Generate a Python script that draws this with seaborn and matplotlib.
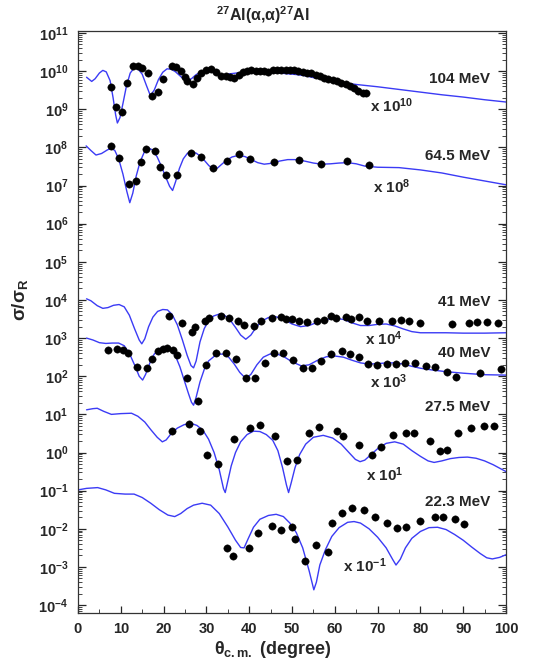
import numpy as np
import pandas as pd
import matplotlib
matplotlib.use("Agg")
import matplotlib.pyplot as plt
import seaborn as sns
from matplotlib.ticker import FixedLocator, LogFormatterMathtext, MultipleLocator, NullFormatter

# ---------------- data (angles in degrees, values as log10 of sigma/sigma_R incl. scale factor) -------------
energies = ["104 MeV", "64.5 MeV", "41 MeV", "40 MeV", "27.5 MeV", "22.3 MeV"]
scale_labels = ["x 10$^{10}$", "x 10$^{8}$", "x 10$^{4}$", "x 10$^{3}$", "x 10$^{1}$", "x 10$^{-1}$"]
y_decades = list(range(-4, 12))

# experimental points
th_104 = [7.8, 8.96, 10.3, 11.5, 12.85, 14.0, 15.0, 16.4, 17.3, 18.7, 19.9, 22.0, 23.0, 24.1, 24.9, 25.5,
          26.9, 27.9, 28.8, 30.0, 31.1, 32.3, 33.5, 34.6, 35.5, 36.5, 37.5, 38.5, 39.5, 40.5, 41.5, 42.5,
          43.5, 44.5, 45.5, 46.5, 47.5, 48.5, 49.5, 50.5, 51.5, 52.5, 53.5, 54.5, 55.5, 56.5, 57.5, 58.5,
          59.5, 60.5, 61.5, 62.5, 63.5, 64.5, 65.5, 66.5, 67.3]
lg_104 = [9.58, 9.07, 8.92, 9.70, 10.13, 10.13, 10.07, 9.94, 9.35, 9.44, 9.79, 10.13, 10.10, 10.01, 9.84, 9.74,
          9.66, 9.81, 9.94, 10.03, 10.05, 9.99, 9.87, 9.87, 9.84, 9.83, 9.90, 9.97, 10.0, 10.02, 10.0, 10.0,
          10.0, 9.99, 10.02, 10.04, 10.03, 10.02, 10.04, 10.03, 10.0, 9.99, 9.96, 9.94, 9.90, 9.86, 9.82, 9.80,
          9.76, 9.74, 9.70, 9.65, 9.60, 9.55, 9.48, 9.43, 9.43]

th_645 = [7.7, 9.6, 12.0, 13.5, 14.7, 15.9, 17.9, 19.2, 20.5, 23.1, 26.4, 28.8, 31.6, 34.8, 37.7, 40.2,
          45.8, 51.6, 56.7, 62.8, 68.0]
lg_645 = [8.03, 7.71, 7.03, 7.12, 7.63, 7.96, 7.90, 7.48, 7.27, 7.28, 7.85, 7.76, 7.45, 7.65, 7.83, 7.69,
          7.63, 7.66, 7.56, 7.65, 7.55]

th_41 = [21.3, 24.4, 26.7, 27.4, 29.6, 30.6, 33.4, 35.3, 37.3, 38.7, 41.1, 42.7, 45.4, 47.4, 48.5, 50.1,
         51.6, 53.6, 55.9, 57.5, 59.0, 60.2, 62.5, 63.7, 65.6, 67.6, 70.3, 73.4, 75.4, 77.3, 80.0, 87.4,
         91.3, 93.2, 95.6, 98.1]
lg_41 = [3.57, 3.40, 3.16, 3.29, 3.44, 3.52, 3.57, 3.52, 3.44, 3.35, 3.33, 3.44, 3.52, 3.55, 3.50, 3.49,
         3.44, 3.42, 3.45, 3.48, 3.57, 3.52, 3.55, 3.49, 3.55, 3.45, 3.44, 3.46, 3.48, 3.46, 3.40, 3.37,
         3.40, 3.42, 3.42, 3.40]

th_40 = [6.9, 9.1, 10.4, 11.6, 13.8, 16.1, 17.2, 18.6, 19.8, 20.9, 22.1, 23.1, 25.4, 28.0, 30.0, 32.2,
         34.5, 36.9, 39.2, 41.3, 43.6, 45.8, 48.0, 50.3, 52.5, 54.7, 56.8, 59.2, 61.7, 63.5, 65.6, 67.8,
         69.9, 72.1, 74.2, 76.5, 78.8, 81.2, 83.5, 86.2, 88.4, 93.9, 98.8]
lg_40 = [2.69, 2.72, 2.69, 2.60, 2.23, 2.21, 2.45, 2.66, 2.71, 2.73, 2.69, 2.55, 1.95, 1.36, 2.30, 2.62,
         2.62, 2.46, 1.95, 1.95, 2.36, 2.61, 2.61, 2.42, 2.22, 2.22, 2.39, 2.57, 2.65, 2.57, 2.50, 2.33,
         2.29, 2.32, 2.33, 2.35, 2.35, 2.27, 2.23, 2.10, 1.98, 2.09, 2.20]

th_275 = [21.9, 26.0, 28.5, 30.2, 32.7, 36.5, 40.2, 42.5, 46.0, 48.8, 51.2, 53.9, 56.3, 60.4, 62.0, 65.7,
          68.7, 70.7, 73.6, 76.7, 78.6, 82.2, 84.5, 86.2, 88.7, 91.8, 94.9, 97.3]
lg_275 = [0.57, 0.76, 0.57, -0.06, -0.29, 0.35, 0.63, 0.72, 0.43, -0.22, -0.20, 0.52, 0.67, 0.57, 0.43, 0.20,
          -0.06, 0.15, 0.46, 0.52, 0.52, 0.29, 0.04, 0.06, 0.52, 0.63, 0.70, 0.69]

th_223 = [34.7, 36.2, 40.0, 42.1, 45.4, 47.5, 50.1, 50.6, 53.0, 55.7, 58.5, 59.3, 61.6, 64.1, 66.9, 69.5,
          72.1, 74.6, 76.7, 80.0, 83.4, 85.3, 88.0, 90.3]
lg_223 = [-2.50, -2.71, -2.50, -2.12, -1.93, -2.03, -1.96, -2.27, -2.85, -2.43, -2.60, -1.84, -1.58, -1.46,
          -1.52, -1.70, -1.86, -1.99, -1.96, -1.79, -1.70, -1.70, -1.74, -1.87]

# model calculations
cth_104 = [2.0, 3.2, 4.0, 5.0, 5.8, 6.6, 7.5, 8.2, 8.8, 9.2, 9.8, 10.5, 11.3, 12.2, 13.1, 14.0, 15.0, 16.0,
           16.9, 17.8, 18.8, 19.8, 20.8, 21.8, 22.8, 23.8, 24.7, 25.5, 26.5, 27.5, 28.5, 29.5, 30.5, 31.5,
           32.5, 33.5, 34.5, 35.5, 37, 39, 41, 43, 45, 47, 49, 51, 53, 55, 57, 59, 61, 63, 65, 70, 75, 80,
           85, 90, 95, 100]
clg_104 = [9.84, 9.73, 9.80, 9.95, 10.02, 9.98, 9.75, 9.30, 8.85, 8.64, 8.78, 9.15, 9.60, 9.95, 10.08, 10.06,
           9.92, 9.62, 9.36, 9.50, 9.78, 9.97, 10.06, 10.05, 9.98, 9.88, 9.79, 9.76, 9.80, 9.90, 9.97, 10.0,
           10.0, 9.97, 9.92, 9.90, 9.91, 9.93, 9.95, 9.96, 9.96, 9.96, 9.96, 9.95, 9.93, 9.91, 9.88, 9.83,
           9.79, 9.76, 9.72, 9.68, 9.65, 9.59, 9.52, 9.45, 9.38, 9.32, 9.25, 9.19]

cth_645 = [1.9, 3.0, 4.2, 5.5, 6.8, 7.7, 8.6, 9.5, 10.5, 11.4, 12.1, 12.8, 13.6, 14.5, 15.5, 16.5, 17.5, 18.5,
           19.5, 20.5, 21.4, 22.1, 22.8, 23.7, 24.6, 25.6, 26.6, 27.6, 28.6, 29.6, 30.6, 31.6, 32.6, 33.6,
           34.8, 36.0, 37.5, 39, 40.5, 42, 43.5, 45, 47, 49, 51, 53, 55, 57, 59, 61, 63, 65, 67, 70, 75, 80,
           85, 90, 95, 100]
clg_645 = [8.04, 7.92, 7.80, 7.84, 7.93, 7.98, 7.92, 7.70, 7.30, 6.85, 6.55, 6.80, 7.25, 7.62, 7.88, 7.98,
           7.93, 7.75, 7.50, 7.22, 6.98, 6.87, 7.10, 7.45, 7.70, 7.85, 7.88, 7.85, 7.77, 7.65, 7.52, 7.44,
           7.46, 7.56, 7.67, 7.75, 7.79, 7.76, 7.68, 7.60, 7.56, 7.58, 7.64, 7.68, 7.68, 7.64, 7.59, 7.56,
           7.57, 7.59, 7.60, 7.57, 7.51, 7.48, 7.47, 7.41, 7.33, 7.22, 7.12, 7.02]

cth_41 = [2.0, 3.0, 4.5, 5.8, 7.0, 8.3, 9.6, 10.8, 12.0, 13.2, 14.3, 14.9, 15.6, 16.5, 17.5, 18.6, 19.8, 20.9,
          22.0, 23.2, 24.4, 25.5, 26.4, 27.0, 27.6, 28.5, 29.5, 30.5, 31.7, 33.0, 34.2, 35.5, 36.8, 38.0,
          39.2, 40.4, 41.6, 43.0, 44.5, 46.2, 48.0, 50.0, 52.0, 54.0, 56.0, 58.0, 60.0, 62.0, 64.0, 66.0,
          68.0, 70.0, 72.0, 74.0, 76.0, 78.0, 80, 83, 86, 90, 95, 100]
clg_41 = [4.03, 3.98, 3.85, 3.78, 3.80, 3.86, 3.88, 3.82, 3.60, 3.25, 2.95, 2.85, 2.98, 3.30, 3.55, 3.70,
          3.75, 3.74, 3.62, 3.35, 2.95, 2.55, 2.28, 2.22, 2.40, 2.90, 3.25, 3.45, 3.58, 3.63, 3.60, 3.48,
          3.28, 3.08, 2.97, 3.08, 3.28, 3.45, 3.54, 3.56, 3.50, 3.37, 3.30, 3.33, 3.42, 3.49, 3.52, 3.49,
          3.40, 3.33, 3.33, 3.36, 3.37, 3.32, 3.24, 3.17, 3.14, 3.14, 3.14, 3.13, 3.13, 3.14]

cth_40 = [2.0, 3.5, 5.0, 6.5, 8.0, 9.5, 10.8, 12.0, 13.2, 14.3, 15.1, 15.8, 16.8, 17.8, 19.0, 20.3, 21.5,
          22.7, 23.8, 24.8, 25.8, 26.5, 27.0, 27.6, 28.5, 29.5, 30.5, 31.8, 33.0, 34.0, 35.2, 36.5, 37.8,
          39.2, 40.4, 41.8, 43.3, 44.8, 46.3, 48.0, 50.0, 52.2, 54.0, 56.0, 58.0, 60.0, 62.0, 64.0, 66.0,
          68.0, 70.0, 72.0, 74.0, 76.0, 78.0, 80, 83, 86, 90, 95, 100]
clg_40 = [3.00, 2.95, 2.88, 2.86, 2.87, 2.87, 2.80, 2.60, 2.30, 2.00, 1.90, 2.05, 2.35, 2.58, 2.72, 2.78,
          2.74, 2.55, 2.25, 1.90, 1.55, 1.32, 1.24, 1.45, 1.85, 2.18, 2.40, 2.52, 2.58, 2.58, 2.50, 2.32,
          2.10, 1.94, 2.05, 2.30, 2.50, 2.58, 2.59, 2.52, 2.38, 2.27, 2.30, 2.42, 2.51, 2.53, 2.50, 2.42,
          2.35, 2.32, 2.33, 2.35, 2.35, 2.32, 2.26, 2.21, 2.16, 2.12, 2.08, 2.04, 2.03]

cth_275 = [2.0, 3.5, 4.5, 6.0, 7.8, 10.0, 12.5, 14.0, 15.6, 17.0, 18.5, 19.7, 20.6, 21.8, 23.2, 24.8, 26.3,
           27.8, 29.2, 30.5, 31.8, 33.0, 34.0, 34.4, 35.0, 35.8, 36.8, 38.0, 39.5, 41.0, 42.5, 44.0, 45.5,
           46.7, 47.8, 48.7, 49.2, 49.8, 50.7, 51.8, 53.2, 55.0, 57.3, 59.5, 61.5, 63.3, 64.8, 65.9, 67.0,
           68.5, 70.0, 72.0, 74.0, 76.0, 78.0, 80.0, 81.8, 83.2, 85.0, 87.0, 89.0, 91.0, 93.0, 95.0, 97.0, 100]
clg_275 = [1.12, 1.15, 1.16, 1.08, 1.00, 1.02, 1.03, 0.95, 0.80, 0.60, 0.40, 0.28, 0.33, 0.50, 0.64, 0.73,
           0.77, 0.71, 0.58, 0.35, 0.00, -0.45, -0.95, -1.05, -0.75, -0.35, 0.00, 0.28, 0.47, 0.56, 0.55,
           0.47, 0.32, 0.05, -0.40, -0.85, -1.05, -0.80, -0.40, -0.05, 0.22, 0.40, 0.45, 0.38, 0.22, 0.00,
           -0.18, -0.24, -0.20, -0.05, 0.10, 0.24, 0.28, 0.22, 0.05, -0.10, -0.22, -0.26, -0.22, -0.16,
           -0.13, -0.12, -0.15, -0.22, -0.32, -0.50]

cth_223 = [0.0, 2.0, 4.6, 6.5, 8.5, 11.0, 13.1, 15.0, 17.0, 19.0, 21.0, 22.6, 24.0, 25.5, 27.0, 29.0, 31.0,
           33.0, 35.0, 36.8, 38.0, 38.8, 39.8, 41.0, 42.5, 44.5, 46.3, 48.0, 49.5, 51.0, 52.5, 54.0, 55.1,
           55.7, 56.5, 57.8, 59.3, 61.0, 63.0, 64.5, 66.0, 68.0, 70.0, 72.0, 73.5, 74.3, 75.3, 76.5, 78.0,
           80.0, 82.0, 84.0, 86.0, 88.0, 90.0, 92.0, 94.0, 95.5, 96.8, 98.5, 100]
clg_223 = [-0.98, -0.94, -0.92, -0.98, -1.07, -1.09, -1.09, -1.18, -1.33, -1.50, -1.64, -1.68, -1.60, -1.47,
           -1.38, -1.33, -1.38, -1.60, -1.95, -2.30, -2.49, -2.50, -2.25, -1.96, -1.75, -1.65, -1.62, -1.68,
           -1.85, -2.10, -2.50, -3.10, -3.60, -3.40, -2.95, -2.55, -2.20, -1.97, -1.83, -1.81, -1.85, -2.00,
           -2.22, -2.50, -2.80, -2.95, -2.80, -2.50, -2.25, -2.07, -1.97, -1.96, -2.02, -2.15, -2.30, -2.48,
           -2.65, -2.76, -2.79, -2.75, -2.68]

# label anchor positions (theta, log10 value)
energy_label_lg = [9.79, 7.78, 3.95, 2.60, 1.20, -1.29]
scale_label_th = [68.2, 69.0, 67.1, 68.2, 67.4, 62.0]
scale_label_lg = [9.09, 6.97, 2.99, 1.86, -0.59, -2.98]

data_sets = [(th_104, lg_104), (th_645, lg_645), (th_41, lg_41), (th_40, lg_40), (th_275, lg_275), (th_223, lg_223)]
curve_sets = [(cth_104, clg_104), (cth_645, clg_645), (cth_41, clg_41), (cth_40, clg_40), (cth_275, clg_275), (cth_223, clg_223)]

# ---------------- plotting ----------------
sns.set_style("ticks")
plt.rcParams["font.family"] = ["Liberation Sans", "DejaVu Sans"]
plt.rcParams["font.weight"] = "bold"
plt.rcParams["mathtext.fontset"] = "custom"
plt.rcParams["mathtext.rm"] = "Liberation Sans:bold"
plt.rcParams["mathtext.bf"] = "Liberation Sans:bold"
plt.rcParams["mathtext.it"] = "Liberation Sans:italic:bold"
plt.rcParams["mathtext.default"] = "rm"
plt.rcParams["axes.unicode_minus"] = False

fig = plt.figure(figsize=(5.33, 6.68), dpi=100)
ax = fig.add_axes([78 / 533, 1 - 612.7 / 668, 428 / 533, (612.7 - 30.7) / 668])

curve_rows = []
for e, (th, lg) in zip(energies, curve_sets):
    for t, l in zip(th, lg):
        curve_rows.append({"energy": e, "theta": t, "ratio": 10.0 ** l})
curve_df = pd.DataFrame(curve_rows)

data_rows = []
for e, (th, lg) in zip(energies, data_sets):
    for t, l in zip(th, lg):
        data_rows.append({"energy": e, "theta": t, "ratio": 10.0 ** l})
data_df = pd.DataFrame(data_rows)

line_col = "#3b3bf5"
sns.lineplot(data=curve_df, x="theta", y="ratio", units="energy", estimator=None, sort=False,
             color=line_col, lw=1.0, ax=ax, legend=False)
sns.scatterplot(data=data_df, x="theta", y="ratio", color="black", s=28, edgecolor="black",
                linewidth=0.3, ax=ax, legend=False, zorder=3)

ax.set_yscale("log")
ax.set_xlim(0, 100)
ax.set_ylim(10 ** -4.2, 10 ** 11.06)
major_y = [10.0 ** d for d in y_decades]
minor_y = [m * 10.0 ** d for d in y_decades[:-1] for m in range(2, 10)]
minor_y = [10.0 ** -5 * m for m in range(7, 10)] + minor_y
ax.yaxis.set_major_locator(FixedLocator(major_y))
ax.yaxis.set_minor_locator(FixedLocator(minor_y))
ax.yaxis.set_major_formatter(LogFormatterMathtext())
ax.yaxis.set_minor_formatter(NullFormatter())
ax.xaxis.set_major_locator(MultipleLocator(10))
ax.xaxis.set_minor_locator(MultipleLocator(5))

ax.tick_params(axis="both", which="both", direction="in", right=True, top=False, labelsize=10.5)
ax.tick_params(axis="y", which="major", length=6, width=0.9, pad=7)
ax.tick_params(axis="y", which="minor", length=3, width=0.6, labelleft=False)
ax.tick_params(axis="x", which="major", length=5, width=0.9, pad=7)
ax.tick_params(axis="x", which="minor", length=3, width=0.6, labelbottom=False)
for lab in ax.get_xticklabels() + ax.get_yticklabels():
    lab.set_fontweight("bold")
for sp in ax.spines.values():
    sp.set_linewidth(0.9)
    sp.set_color("#333333")

ax.xaxis.label.set_visible(False)
ax.yaxis.label.set_visible(False)
ax.text(0.455, -0.045, r"θ$_{\mathrm{c.m.}}$ (degree)", transform=ax.transAxes, ha="center", va="top",
        fontsize=13, fontweight="bold")
ax.text(-0.135, 0.537, r"σ/σ$_{\mathrm{R}}$", transform=ax.transAxes, ha="center", va="center",
        rotation=90, fontsize=13.5, fontweight="bold")
fig.text(263 / 533, 1 - 15 / 668, r"$^{27}$Al(α,α)$^{27}$Al", ha="center", va="center",
         fontsize=11.5, fontweight="bold")

for e, lg in zip(energies, energy_label_lg):
    ax.text(96.3, 10.0 ** lg, e, ha="right", va="center", fontsize=11, fontweight="bold")
for s, th, lg in zip(scale_labels, scale_label_th, scale_label_lg):
    ax.text(th, 10.0 ** lg, s, ha="left", va="center", fontsize=11, fontweight="bold")

fig.savefig("out.png", dpi=100)
